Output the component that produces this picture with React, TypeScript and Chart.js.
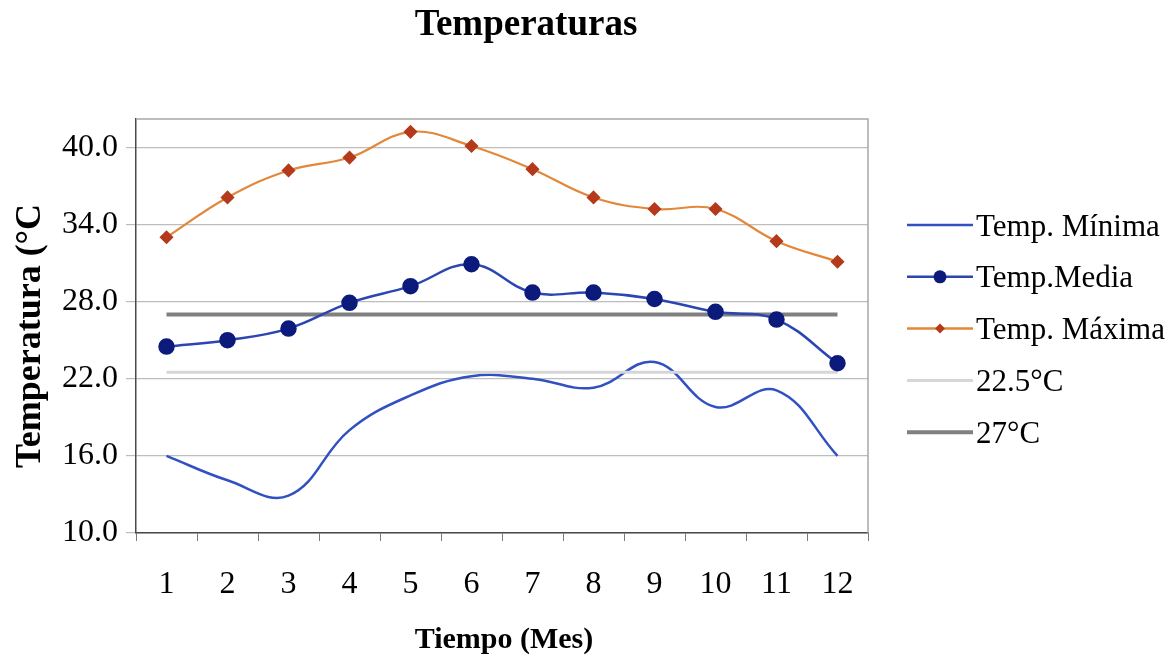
import React, { useEffect, useRef } from "react";
import { Chart, registerables } from "chart.js";

Chart.register(...registerables);

// Months on the horizontal axis
const months = ["1", "2", "3", "4", "5", "6", "7", "8", "9", "10", "11", "12"];

// Monthly temperatures (°C)
const tempMinima = [16.0, 14.1, 12.9, 18.0, 20.7, 22.2, 22.0, 21.3, 23.3, 19.8, 21.1, 16.0];
const tempMedia = [24.5, 25.0, 25.9, 27.9, 29.2, 30.9, 28.7, 28.7, 28.2, 27.2, 26.6, 23.2];
const tempMaxima = [33.0, 36.1, 38.2, 39.2, 41.2, 40.1, 38.3, 36.1, 35.2, 35.2, 32.7, 31.1];

// Reference levels
const ref225 = 22.5;
const ref27 = 27;

// Vertical axis ticks
const yTicks = [10, 16, 22, 28, 34, 40];
const yMin = 10;
const yMax = 42.2;

const TITLE = "Temperaturas";
const X_TITLE = "Tiempo (Mes)";
const Y_TITLE = "Temperatura (°C";

const SERIF = '"Liberation Serif", "Times New Roman", serif';

const COL_MIN = "#3150c2";
const COL_MEDIA_LINE = "#2b46b2";
const COL_MEDIA_PT = "#0c1a7c";
const COL_MAX_LINE = "#e3873a";
const COL_MAX_PT = "#b5391b";
const COL_225 = "#d6d6d6";
const COL_27 = "#808080";

type LegendItem = {
  label: string;
  color: string;
  width: number;
  marker?: "circle" | "diamond";
  markerColor?: string;
};

const legendItems: LegendItem[] = [
  { label: "Temp. Mínima", color: COL_MIN, width: 2.5 },
  { label: "Temp.Media", color: COL_MEDIA_LINE, width: 2.5, marker: "circle", markerColor: COL_MEDIA_PT },
  { label: "Temp. Máxima", color: COL_MAX_LINE, width: 2.5, marker: "diamond", markerColor: COL_MAX_PT },
  { label: "22.5°C", color: COL_225, width: 3 },
  { label: "27°C", color: COL_27, width: 4 },
];

const overlay = {
  id: "overlay",
  afterDraw(chart: any) {
    const { ctx, chartArea: a } = chart;
    ctx.save();

    // plot frame (top and right edges)
    ctx.strokeStyle = "#a8a8a8";
    ctx.lineWidth = 1.5;
    ctx.beginPath();
    ctx.moveTo(a.left, a.top);
    ctx.lineTo(a.right, a.top);
    ctx.lineTo(a.right, a.bottom);
    ctx.stroke();

    ctx.fillStyle = "#000";

    // chart title
    ctx.font = `bold 37px ${SERIF}`;
    ctx.textAlign = "center";
    ctx.textBaseline = "alphabetic";
    ctx.fillText(TITLE, 526, 35);

    // x axis title
    ctx.font = `bold 30px ${SERIF}`;
    ctx.fillText(X_TITLE, 504, 648);

    // y axis title
    ctx.save();
    ctx.translate(40, 336);
    ctx.rotate(-Math.PI / 2);
    ctx.font = `bold 36px ${SERIF}`;
    ctx.fillText(Y_TITLE, 0, 0);
    ctx.restore();

    // legend
    const x0 = 907;
    const x1 = 973;
    legendItems.forEach((it, i) => {
      const y = 225 + i * 51.8;
      ctx.strokeStyle = it.color;
      ctx.lineWidth = it.width;
      ctx.beginPath();
      ctx.moveTo(x0, y);
      ctx.lineTo(x1, y);
      ctx.stroke();
      const cx = (x0 + x1) / 2;
      if (it.marker === "circle") {
        ctx.fillStyle = it.markerColor;
        ctx.beginPath();
        ctx.arc(cx, y, 6.5, 0, Math.PI * 2);
        ctx.fill();
      } else if (it.marker === "diamond") {
        ctx.fillStyle = it.markerColor;
        ctx.beginPath();
        ctx.moveTo(cx, y - 5);
        ctx.lineTo(cx + 5, y);
        ctx.lineTo(cx, y + 5);
        ctx.lineTo(cx - 5, y);
        ctx.closePath();
        ctx.fill();
      }
      ctx.fillStyle = "#000";
      ctx.font = `31px ${SERIF}`;
      ctx.textAlign = "left";
      ctx.textBaseline = "alphabetic";
      ctx.fillText(it.label, x1 + 3, y + 10.5);
    });

    ctx.restore();
  },
};

export default function App() {
  const canvasRef = useRef<HTMLCanvasElement | null>(null);

  useEffect(() => {
    if (!canvasRef.current) return;
    const flat = (v: number) => months.map(() => v);
    const chart = new Chart(canvasRef.current, {
      type: "line",
      data: {
        labels: months,
        datasets: [
          {
            label: "Temp. Mínima",
            data: tempMinima,
            borderColor: COL_MIN,
            borderWidth: 2.5,
            pointRadius: 0,
            tension: 0.4,
            order: 4,
          },
          {
            label: "Temp.Media",
            data: tempMedia,
            borderColor: COL_MEDIA_LINE,
            borderWidth: 2.5,
            pointRadius: 7,
            pointBackgroundColor: COL_MEDIA_PT,
            pointBorderColor: COL_MEDIA_PT,
            tension: 0.4,
            order: 0,
          },
          {
            label: "Temp. Máxima",
            data: tempMaxima,
            borderColor: COL_MAX_LINE,
            borderWidth: 2.2,
            pointStyle: "rectRot",
            pointRadius: 5.5,
            pointBackgroundColor: COL_MAX_PT,
            pointBorderColor: COL_MAX_PT,
            tension: 0.4,
            order: 3,
          },
          {
            label: "22.5°C",
            data: flat(ref225),
            borderColor: COL_225,
            borderWidth: 3,
            pointRadius: 0,
            order: 2,
          },
          {
            label: "27°C",
            data: flat(ref27),
            borderColor: COL_27,
            borderWidth: 4,
            pointRadius: 0,
            order: 1,
          },
        ],
      },
      options: {
        responsive: false,
        animation: false,
        layout: { padding: { left: 0, top: 119, right: 307, bottom: 0 } },
        plugins: {
          legend: { display: false },
          title: { display: false },
          tooltip: { enabled: false },
        },
        scales: {
          x: {
            offset: true,
            grid: {
              offset: true,
              drawOnChartArea: false,
              drawTicks: true,
              tickLength: 8,
              color: "#7a7a7a",
            },
            border: { color: "#4a4a4a", width: 1.5 },
            ticks: {
              color: "#000",
              font: { family: SERIF, size: 32 },
              padding: 24,
              maxRotation: 0,
            },
            afterFit: (s: any) => {
              s.height = 125;
            },
          },
          y: {
            min: yMin,
            max: yMax,
            afterBuildTicks: (s: any) => {
              s.ticks = yTicks.map((v) => ({ value: v }));
            },
            grid: {
              color: "#bdbdbd",
              lineWidth: 1.2,
              drawTicks: true,
              tickLength: 10,
            },
            border: { color: "#4a4a4a", width: 1.5 },
            ticks: {
              color: "#000",
              font: { family: SERIF, size: 32 },
              padding: 8,
              callback: (v: any) => Number(v).toFixed(1),
            },
            afterFit: (s: any) => {
              s.width = 136;
            },
          },
        },
      },
      plugins: [overlay],
    });
    return () => chart.destroy();
  }, []);

  return (
    <div style={{ position: "absolute", left: 0, top: 0, width: 1175, height: 658, background: "#fff" }}>
      <canvas ref={canvasRef} width={1175} height={658} />
    </div>
  );
}
